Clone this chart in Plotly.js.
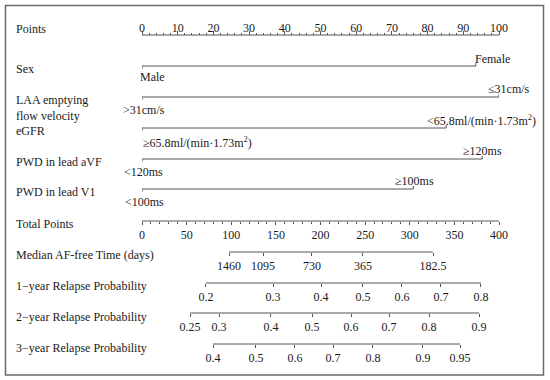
<!DOCTYPE html>
<html><head><meta charset="utf-8">
<script src="https://cdn.plot.ly/plotly-3.0.1.min.js"></script>
<style>html,body{margin:0;padding:0;background:#fff}#chart{width:550px;height:380px}</style>
</head><body><div id="chart"></div>
<script>
// ---------------- data ----------------
const pointTicks = [0,10,20,30,40,50,60,70,80,90,100];
const totalTicks = [0,50,100,150,200,250,300,350,400];

const sexLevels = ["Male", "Female"];
const sexPoints = [0, 93.5];
const laaLevels = ["&gt;31cm/s", "≤31cm/s"];
const laaPoints = [0, 100];
const egfrLevels = ["≥65.8ml/(min·1.73m<sup>2</sup>)", "&lt;65.8ml/(min·1.73m<sup>2</sup>)"];
const egfrPoints = [0, 85.2];
const avfLevels = ["&lt;120ms", "≥120ms"];
const avfPoints = [0, 95.3];
const v1Levels = ["&lt;100ms", "≥100ms"];
const v1Points = [0, 76];

const medianLabels = ["1460", "1095", "730", "365", "182.5"];
const medianTotalPoints = [97.5, 135.6, 190.4, 247.6, 326.1];
const prob1Labels = ["0.2", "0.3", "0.4", "0.5", "0.6", "0.7", "0.8"];
const prob1TotalPoints = [71.7, 146.8, 200.6, 247.6, 291.3, 335.0, 379.8];
const prob2Labels = ["0.25", "0.3", "0.4", "0.5", "0.6", "0.7", "0.8", "0.9"];
const prob2TotalPoints = [53.8, 86.3, 144.5, 190.5, 234.2, 276.8, 321.6, 377.6];
const prob3Labels = ["0.4", "0.5", "0.6", "0.7", "0.8", "0.9", "0.95"];
const prob3TotalPoints = [79.6, 127.7, 171.4, 214.0, 258.8, 314.8, 356.3];

const rowNames = ["Points", "Sex", "LAA emptying<br>flow velocity", "eGFR", "PWD in lead aVF",
  "PWD in lead V1", "Total Points", "Median AF-free Time (days)",
  "1−year Relapse Probability", "2−year Relapse Probability", "3−year Relapse Probability"];

// ---------------- layout / style ----------------
const W = 550, H = 380;
const FONT = "Liberation Serif, Times New Roman, serif";
const TXT = "#1a1a1a", LINE = "#555555";
const rowY = [35, 66, 97, 128, 159, 189, 221, 252, 283, 313, 344];
const rowLabelY = [29, 69, 108, 131, 162, 192, 224, 255, 286, 317, 348];
const dom = [142 / W, 499 / W];
const pos = y => 1 - y / H;
const TK = 3;

const traces = [];
const annotations = [];

rowNames.forEach((n, i) => {
  annotations.push({text: n, xref: "paper", yref: "y", x: 14 / W, y: rowLabelY[i],
    xanchor: "left", yanchor: "middle", align: "left", showarrow: false,
    font: {family: FONT, size: 12, color: TXT}});
});

// categorical rows
const catRows = [
  {levels: sexLevels, pts: sexPoints, y: rowY[1],
   lab: [{anchor: "left", shift: -4, dy: 11}, {anchor: "left", shift: -3, dy: -7}]},
  {levels: laaLevels, pts: laaPoints, y: rowY[2],
   lab: [{anchor: "center", shift: 2, dy: 13}, {anchor: "center", shift: 10, dy: -8}]},
  {levels: egfrLevels, pts: egfrPoints, y: rowY[3],
   lab: [{anchor: "left", shift: -1, dy: 14}, {anchor: "left", shift: -21, dy: -8}]},
  {levels: avfLevels, pts: avfPoints, y: rowY[4],
   lab: [{anchor: "center", shift: 1, dy: 13}, {anchor: "center", shift: 0, dy: -8}]},
  {levels: v1Levels, pts: v1Points, y: rowY[5],
   lab: [{anchor: "center", shift: 2, dy: 13}, {anchor: "center", shift: 1, dy: -8}]}
];
catRows.forEach(r => {
  const a = r.pts[0], b = r.pts[r.pts.length - 1];
  traces.push({type: "scatter", mode: "lines", xaxis: "x", yaxis: "y",
    x: [a, a, b, b], y: [r.y + TK, r.y, r.y, r.y - TK],
    line: {color: LINE, width: 1}, hoverinfo: "skip", showlegend: false});
  r.levels.forEach((lv, k) => {
    annotations.push({text: lv, xref: "x", yref: "y", x: r.pts[k], y: r.y + r.lab[k].dy,
      xanchor: r.lab[k].anchor, xshift: r.lab[k].shift, yanchor: "middle", showarrow: false,
      font: {family: FONT, size: 12, color: TXT}});
  });
});

// Points axis line (trace on x)
traces.push({type: "scatter", mode: "lines", xaxis: "x", yaxis: "y",
  x: [pointTicks[0], pointTicks[pointTicks.length - 1]], y: [rowY[0], rowY[0]],
  line: {color: LINE, width: 1}, hoverinfo: "skip", showlegend: false});
// Total points axis line (trace on x2)
traces.push({type: "scatter", mode: "lines", xaxis: "x2", yaxis: "y",
  x: [totalTicks[0], totalTicks[totalTicks.length - 1]], y: [rowY[6], rowY[6]],
  line: {color: LINE, width: 1}, hoverinfo: "skip", showlegend: false});

// scale rows on total points axis
const scaleRows = [
  {labels: medianLabels, vals: medianTotalPoints, y: rowY[7], ax: "x3"},
  {labels: prob1Labels, vals: prob1TotalPoints, y: rowY[8], ax: "x4"},
  {labels: prob2Labels, vals: prob2TotalPoints, y: rowY[9], ax: "x5"},
  {labels: prob3Labels, vals: prob3TotalPoints, y: rowY[10], ax: "x6"}
];

const layout = {
  width: W, height: H, margin: {l: 0, r: 0, t: 0, b: 0},
  paper_bgcolor: "#fff", plot_bgcolor: "#fff", showlegend: false,
  font: {family: FONT, size: 12, color: TXT},
  yaxis: {range: [H, 0], domain: [0, 1], visible: false, fixedrange: true},
  xaxis: {range: [0, 100], domain: dom, anchor: "free", position: pos(rowY[0]), side: "top",
    showline: false, showgrid: false, zeroline: false,
    tickmode: "array", tickvals: pointTicks, ticktext: pointTicks.map(String),
    ticks: "outside", ticklen: 4, tickcolor: LINE, tickwidth: 1,
    minor: {dtick: 2, ticklen: 2, ticks: "outside", tickcolor: LINE, showgrid: false},
    tickfont: {family: FONT, size: 12, color: TXT}, ticklabelstandoff: -6},
  xaxis2: {range: [0, 400], overlaying: "x", anchor: "free", position: pos(rowY[6]), side: "bottom",
    showline: false, showgrid: false, zeroline: false,
    tickmode: "array", tickvals: totalTicks, ticktext: totalTicks.map(String),
    ticks: "outside", ticklen: 3, tickcolor: LINE, tickwidth: 1,
    minor: {dtick: 10, ticklen: 2, ticks: "outside", tickcolor: LINE, showgrid: false},
    tickfont: {family: FONT, size: 12, color: TXT}},
  annotations: annotations,
  shapes: [{type: "rect", xref: "paper", yref: "paper", x0: 5.5 / W, x1: 543.5 / W,
    y0: 1 - 375 / H, y1: 1 - 5.5 / H, line: {color: "#6a6a6a", width: 1.5}}]
};

scaleRows.forEach(r => {
  traces.push({type: "scatter", mode: "lines", xaxis: r.ax, yaxis: "y",
    x: [Math.min(...r.vals), Math.max(...r.vals)], y: [r.y, r.y],
    line: {color: LINE, width: 1}, hoverinfo: "skip", showlegend: false});
  layout["xaxis" + r.ax.slice(1)] = {range: [0, 400], overlaying: "x", anchor: "free",
    position: pos(r.y), side: "bottom", showline: false, showgrid: false, zeroline: false,
    tickmode: "array", tickvals: r.vals, ticktext: r.labels,
    ticks: "outside", ticklen: 3, tickcolor: LINE, tickwidth: 1,
    tickfont: {family: FONT, size: 12, color: TXT}};
});

Plotly.newPlot("chart", traces, layout, {staticPlot: true, displayModeBar: false});
</script></body></html>
